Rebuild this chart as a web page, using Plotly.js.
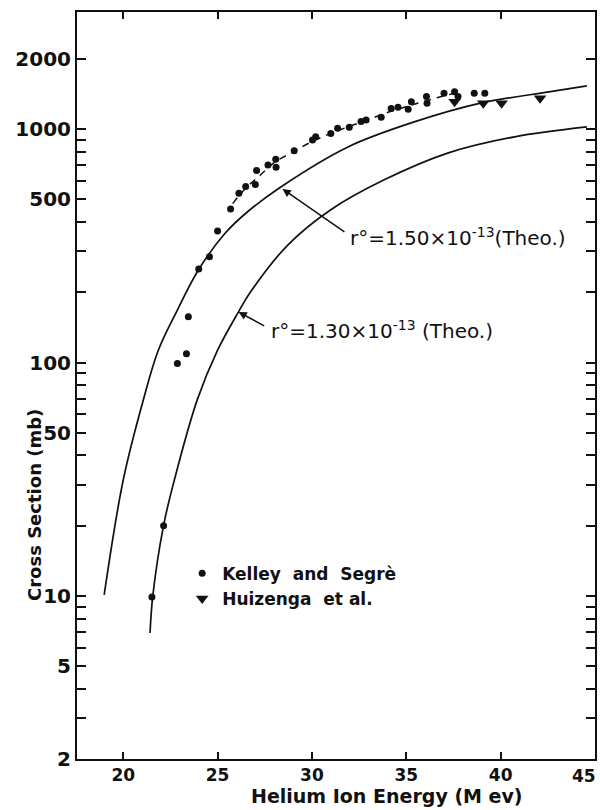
<!DOCTYPE html>
<html>
<head>
<meta charset="utf-8">
<script src="https://cdn.plot.ly/plotly-3.0.1.min.js"></script>
<style>
  html, body { margin: 0; padding: 0; background: #ffffff; }
  #chart { width: 600px; height: 810px; }
</style>
</head>
<body>
<div id="chart"></div>
<script>
// ---------- data ----------
// Kelley and Segrè measured points (energy MeV, cross section mb)
const kelleyEnergy = [21.52, 22.14, 22.87, 23.35, 23.45, 24.0, 24.57, 25.0, 25.69, 26.13, 26.49, 27.0, 27.07, 27.67, 28.08, 28.1, 29.06, 30.03, 30.2, 31.0, 31.36, 31.98, 32.6, 32.87, 33.67, 34.2, 34.56, 35.1, 35.27, 36.07, 36.1, 37.0, 37.56, 37.74, 38.6, 39.16];
const kelleySigma  = [9.9, 20, 99, 109, 157, 252, 284, 366, 455, 532, 568, 580, 666, 703, 743, 687, 809, 900, 929, 960, 1010, 1019, 1080, 1096, 1127, 1228, 1241, 1217, 1312, 1380, 1292, 1425, 1449, 1380, 1425, 1425];

// Huizenga et al. points
const huizengaEnergy = [37.56, 39.08, 40.05, 42.09];
const huizengaSigma  = [1312, 1292, 1292, 1358];

// dashed curve through the measured points
const fitEnergy = [25.8, 26.5, 27.3, 28.0, 29.0, 30.0, 31.0, 32.0, 33.0, 34.0, 35.0, 36.0, 37.0, 37.8];
const fitSigma  = [480, 560, 640, 720, 800, 885, 960, 1030, 1100, 1180, 1250, 1320, 1390, 1440];

// theoretical curve r0 = 1.50e-13
const theo150Energy = [18.99, 20.0, 21.06, 21.86, 22.87, 23.99, 25.42, 26.59, 28.35, 31.91, 35.42, 38.99, 42.55, 44.57];
const theo150Sigma  = [10.1, 31.4, 69, 113, 168, 250, 360, 443, 566, 840, 1075, 1297, 1446, 1535];

// theoretical curve r0 = 1.30e-13
const theo130Energy = [21.42, 21.56, 22.14, 22.71, 23.92, 25.0, 26.11, 26.75, 28.72, 31.0, 33.83, 37.23, 40.74, 44.57];
const theo130Sigma  = [6.93, 9.88, 20.1, 31.4, 69.2, 113, 165, 201, 319, 452, 607, 792, 928, 1023];

// axis ticks
const xTickVals = [20, 25, 30, 35, 40];
const xTickText = ['20', '25', '30', '35', '40'];
const xEndLabel = '45';   // drawn at the right-hand corner, as in the reference
const yTickVals = [2, 3, 4, 5, 6, 7, 8, 9, 10, 20, 30, 40, 50, 60, 70, 80, 90, 100, 200, 300, 400, 500, 600, 700, 800, 900, 1000, 2000];
const yTickText = ['2', '', '', '5', '', '', '', '', '10', '', '', '', '50', '', '', '', '', '100', '', '', '', '500', '', '', '', '', '1000', '2000'];

// ---------- styling ----------
const FONT = 'DejaVu Sans, Arial, sans-serif';
const INK = '#111111';

const traces = [
  {
    x: theo150Energy, y: theo150Sigma, type: 'scatter', mode: 'lines',
    line: { color: INK, width: 1.7, shape: 'spline', smoothing: 1 },
    showlegend: false, hoverinfo: 'skip'
  },
  {
    x: theo130Energy, y: theo130Sigma, type: 'scatter', mode: 'lines',
    line: { color: INK, width: 1.7, shape: 'spline', smoothing: 1 },
    showlegend: false, hoverinfo: 'skip'
  },
  {
    x: fitEnergy, y: fitSigma, type: 'scatter', mode: 'lines',
    line: { color: INK, width: 1.5, dash: '7px,6px', shape: 'spline' },
    showlegend: false, hoverinfo: 'skip'
  },
  {
    x: kelleyEnergy, y: kelleySigma, type: 'scatter', mode: 'markers',
    name: 'Kelley  and  Segrè',
    marker: { symbol: 'circle', size: 7, color: INK }
  },
  {
    x: huizengaEnergy, y: huizengaSigma, type: 'scatter', mode: 'markers',
    name: 'Huizenga  et al.',
    marker: { symbol: 'triangle-down', size: 11, color: INK }
  }
];

const L = Math.log10;

const layout = {
  width: 600, height: 810,
  margin: { l: 77, r: 5, t: 12, b: 51 },
  paper_bgcolor: '#ffffff', plot_bgcolor: '#ffffff',
  font: { family: FONT, color: INK },
  showlegend: true,
  legend: {
    x: 0.203, y: 0.272, xanchor: 'left', yanchor: 'top',
    bgcolor: 'rgba(0,0,0,0)', borderwidth: 0,
    font: { family: FONT, size: 17, color: INK, weight: 'bold' },
    tracegroupgap: 0, itemwidth: 30
  },
  xaxis: {
    range: [17.55, 45], type: 'linear',
    tickmode: 'array', tickvals: xTickVals, ticktext: xTickText,
    ticks: 'inside', ticklen: 7, tickwidth: 2, tickcolor: INK,
    showline: true, linewidth: 2, linecolor: INK, mirror: 'ticks',
    showgrid: false, zeroline: false,
    tickfont: { family: FONT, size: 17, color: INK, weight: 'bold' }
  },
  yaxis: {
    type: 'log', range: [L(2), 3.5025],
    tickmode: 'array', tickvals: yTickVals, ticktext: yTickText,
    ticks: 'inside', ticklen: 9, tickwidth: 2, tickcolor: INK,
    showline: true, linewidth: 2, linecolor: INK, mirror: 'ticks',
    showgrid: false, zeroline: false,
    tickfont: { family: FONT, size: 20, color: INK, weight: 'bold' }
  },
  annotations: [
    // end label of the x axis at the lower right corner
    {
      xref: 'paper', yref: 'paper', x: 1, y: 0, xshift: 3, yshift: -5,
      text: xEndLabel, showarrow: false, xanchor: 'right', yanchor: 'top',
      font: { family: FONT, size: 17, color: INK, weight: 'bold' }
    },
    // axis titles
    {
      xref: 'paper', yref: 'paper', x: (387 - 77) / 518, y: (759 - 796) / 747,
      text: 'Helium Ion Energy (M ev)', showarrow: false,
      xanchor: 'center', yanchor: 'middle',
      font: { family: FONT, size: 19, color: INK, weight: 'bold' }
    },
    {
      xref: 'paper', yref: 'paper', x: (34 - 77) / 518, y: (759 - 505) / 747,
      text: 'Cross Section (mb)', showarrow: false, textangle: -90,
      xanchor: 'center', yanchor: 'middle',
      font: { family: FONT, size: 18, color: INK, weight: 'bold' }
    },
    // arrows to the theoretical curves
    {
      xref: 'x', yref: 'y', axref: 'x', ayref: 'y',
      x: 28.44, y: L(555), ax: 31.8, ay: 2.556, text: '',
      showarrow: true, arrowhead: 2, arrowsize: 1.1, arrowwidth: 1.5, arrowcolor: INK,
      standoff: 0, startstandoff: 0
    },
    {
      xref: 'x', yref: 'y', axref: 'x', ayref: 'y',
      x: 26.11, y: 2.217, ax: 27.55, ay: 2.154, text: '',
      showarrow: true, arrowhead: 2, arrowsize: 1.1, arrowwidth: 1.5, arrowcolor: INK,
      standoff: 0, startstandoff: 0
    },
    // labels
    {
      xref: 'x', yref: 'y', x: 31.9, y: 2.539,
      text: 'r°=1.50×10<sup>-13</sup>(Theo.)', showarrow: false,
      xanchor: 'left', yanchor: 'middle',
      font: { family: FONT, size: 20, color: INK }
    },
    {
      xref: 'x', yref: 'y', x: 27.71, y: 2.140,
      text: 'r°=1.30×10<sup>-13</sup> (Theo.)', showarrow: false,
      xanchor: 'left', yanchor: 'middle',
      font: { family: FONT, size: 20, color: INK }
    }
  ]
};

Plotly.newPlot('chart', traces, layout, { staticPlot: true, displayModeBar: false });
</script>
</body>
</html>
